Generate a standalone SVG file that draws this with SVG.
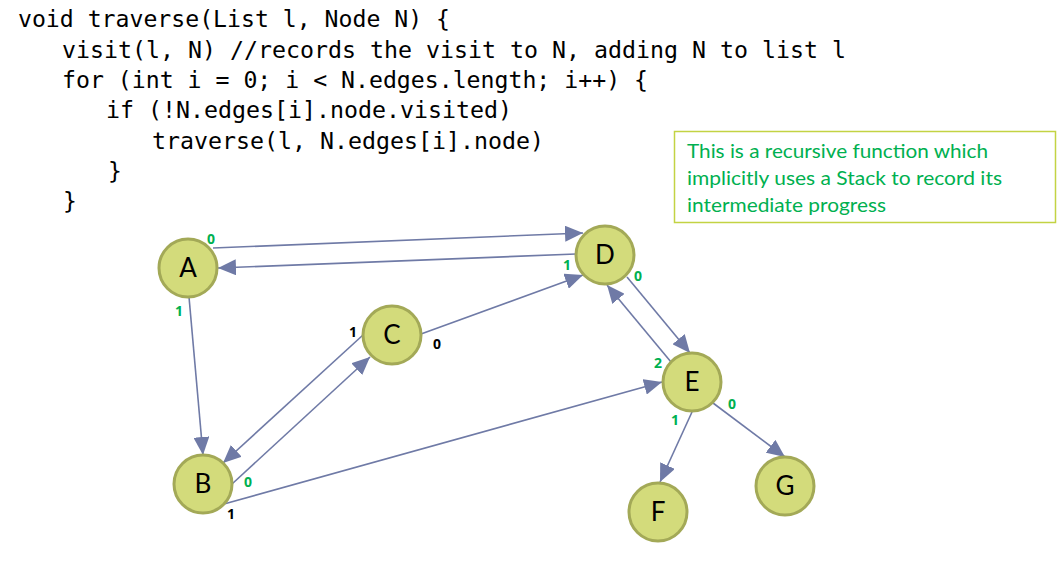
<svg xmlns="http://www.w3.org/2000/svg" width="1062" height="562" viewBox="0 0 1062 562">
  <defs>
    <marker id="arrow" markerUnits="userSpaceOnUse" markerWidth="18" markerHeight="16" refX="18" refY="8" orient="auto">
      <path d="M0,0 L18,8 L0,16 z" fill="#6f7aa6"/>
    </marker>
    <style>
      .code { font-family: "DejaVu Sans Mono", "Liberation Mono", monospace; font-size: 23px; fill: #000; }
      .note { font-family: Lato, "Open Sans", sans-serif; font-size: 20px; fill: #00b050; }
      .edge { stroke: #6f7aa6; stroke-width: 1.6; fill: none; marker-end: url(#arrow); }
      .node circle { fill: #d3db7b; stroke: #a3a957; stroke-width: 3; }
      .node text { font-family: Lato, "Open Sans", sans-serif; font-size: 26px; fill: #000; text-anchor: middle; }
      .idx { font-family: "Open Sans", Lato, sans-serif; font-size: 14px; font-weight: bold; text-anchor: middle; }
      .g { fill: #00b050; }
      .k { fill: #000; }
    </style>
  </defs>
  <rect width="1062" height="562" fill="#ffffff"/>

  <!-- pseudocode -->
  <g id="code">
    <text class="code" x="18" y="27" textLength="432" lengthAdjust="spacingAndGlyphs">void traverse(List l, Node N) {</text>
    <text class="code" x="62" y="57.5" textLength="784" lengthAdjust="spacingAndGlyphs">visit(l, N) //records the visit to N, adding N to list l</text>
    <text class="code" x="62" y="88" textLength="586" lengthAdjust="spacingAndGlyphs">for (int i = 0; i &lt; N.edges.length; i++) {</text>
    <text class="code" x="106" y="118" textLength="406" lengthAdjust="spacingAndGlyphs">if (!N.edges[i].node.visited)</text>
    <text class="code" x="152" y="148.5" textLength="392" lengthAdjust="spacingAndGlyphs">traverse(l, N.edges[i].node)</text>
    <text class="code" x="108" y="179">}</text>
    <text class="code" x="63" y="209">}</text>
  </g>

  <!-- note box -->
  <g id="note">
    <rect x="674.5" y="131.5" width="381" height="91" fill="#ffffff" stroke="#c3d343" stroke-width="1.5"/>
    <text class="note" x="687" y="158" textLength="301" lengthAdjust="spacingAndGlyphs">This is a recursive function which</text>
    <text class="note" x="687" y="185" textLength="315" lengthAdjust="spacingAndGlyphs">implicitly uses a Stack to record its</text>
    <text class="note" x="687" y="212" textLength="199" lengthAdjust="spacingAndGlyphs">intermediate progress</text>
  </g>

  <!-- connectors -->
  <g id="edges">
    <line class="edge" x1="213" y1="248" x2="583" y2="233"/>
    <line class="edge" x1="576" y1="254" x2="218" y2="268"/>
    <line class="edge" x1="189" y1="297" x2="203" y2="455"/>
    <line class="edge" x1="363" y1="335" x2="223" y2="463"/>
    <line class="edge" x1="232" y1="484" x2="370" y2="357"/>
    <line class="edge" x1="421" y1="334" x2="583" y2="275"/>
    <line class="edge" x1="627" y1="277" x2="690" y2="353"/>
    <line class="edge" x1="671" y1="362" x2="607" y2="285"/>
    <line class="edge" x1="224" y1="504" x2="662" y2="382"/>
    <line class="edge" x1="692" y1="412" x2="660" y2="482"/>
    <line class="edge" x1="713" y1="403" x2="785" y2="457"/>
  </g>

  <!-- nodes -->
  <g id="node-A" class="node"><circle cx="188" cy="268" r="29"/><text x="188" y="277">A</text></g>
  <g id="node-B" class="node"><circle cx="203" cy="484" r="29"/><text x="203" y="493">B</text></g>
  <g id="node-C" class="node"><circle cx="392" cy="335" r="29"/><text x="392" y="344">C</text></g>
  <g id="node-D" class="node"><circle cx="605" cy="255" r="29"/><text x="605" y="264">D</text></g>
  <g id="node-E" class="node"><circle cx="692" cy="382" r="29"/><text x="692" y="391">E</text></g>
  <g id="node-F" class="node"><circle cx="658" cy="512" r="29"/><text x="658" y="521">F</text></g>
  <g id="node-G" class="node"><circle cx="785" cy="486" r="29"/><text x="785" y="495">G</text></g>

  <!-- edge order indices -->
  <g id="indices">
    <text class="idx g" x="211" y="244">0</text>
    <text class="idx g" x="179" y="316">1</text>
    <text class="idx g" x="567" y="270">1</text>
    <text class="idx g" x="638" y="281">0</text>
    <text class="idx k" x="353" y="337">1</text>
    <text class="idx k" x="437" y="349">0</text>
    <text class="idx g" x="658" y="368">2</text>
    <text class="idx g" x="675" y="425">1</text>
    <text class="idx g" x="732" y="409">0</text>
    <text class="idx g" x="248" y="487">0</text>
    <text class="idx k" x="231" y="519">1</text>
  </g>
</svg>
